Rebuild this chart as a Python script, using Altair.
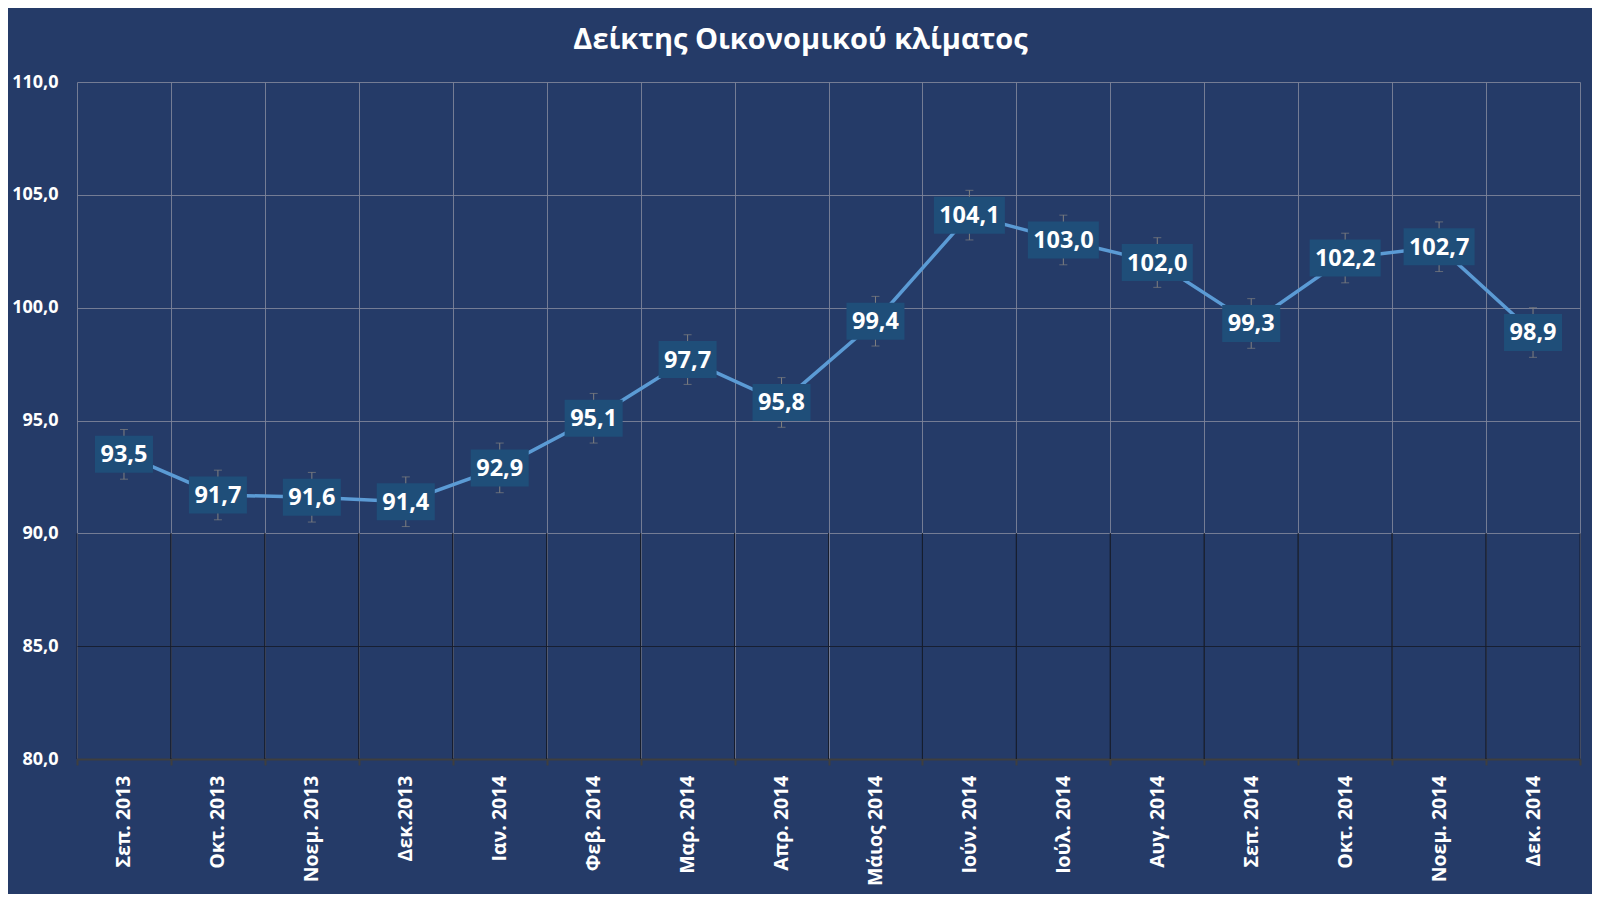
import altair as alt
import pandas as pd

months = ["Σεπ. 2013", "Οκτ. 2013", "Νοεμ. 2013", "Δεκ.2013", "Ιαν. 2014", "Φεβ. 2014",
          "Μαρ. 2014", "Απρ. 2014", "Μάιος 2014", "Ιούν. 2014", "Ιούλ. 2014", "Αυγ. 2014",
          "Σεπ. 2014", "Οκτ. 2014", "Νοεμ. 2014", "Δεκ. 2014"]
values = [93.5, 91.7, 91.6, 91.4, 92.9, 95.1, 97.7, 95.8, 99.4, 104.1, 103.0, 102.0,
          99.3, 102.2, 102.7, 98.9]
errors = [1.1] * 16
y_ticks = [80, 85, 90, 95, 100, 105, 110]

df = pd.DataFrame({"month": months, "value": values, "err": errors})

BG = "#253b68"
FONT = "Open Sans"

xscale = alt.Scale(domain=months, paddingInner=0, paddingOuter=0)
yscale = alt.Scale(domain=[80, 110], nice=False, zero=False)

x_axis = alt.Axis(title=None, labelAngle=-90, labelFont=FONT, labelFontWeight="bold",
                  labelFontSize=19.5, labelColor="white", labelPadding=10,
                  tickBand="extent", grid=True, gridColor="#7d8499", gridOpacity=0.9,
                  domainColor="#3f3f3f", domainWidth=2, tickColor="#3f3f3f",
                  tickSize=6, tickWidth=2)
y_axis = alt.Axis(title=None, values=y_ticks, domain=False, ticks=False, grid=True,
                  labelExpr="replace(format(datum.value, '.1f'), '.', ',')",
                  labelFont=FONT, labelFontWeight="bold", labelFontSize=18,
                  labelColor="white", labelPadding=19,
                  gridColor=alt.condition("datum.value <= 85", alt.value("#161d2e"), alt.value("#7d8499")),
                  gridOpacity=0.9)

base = alt.Chart(df).transform_calculate(
    label="replace(format(datum.value, '.1f'), '.', ',')",
    lo="datum.value - datum.err",
    hi="datum.value + datum.err",
).transform_calculate(
    bw="length(datum.label) > 4 ? 71 : 58",
).transform_calculate(
    bsize="datum.bw * datum.bw",
    shp="datum.bw > 60 ? 'M-1,-0.521L1,-0.521L1,0.521L-1,0.521Z' : 'M-1,-0.638L1,-0.638L1,0.638L-1,0.638Z'",
)

x_enc = alt.X("month:N", scale=xscale, sort=months, axis=x_axis)

dark_left = alt.Chart(df).mark_rule(color="#161d2e", strokeWidth=1).encode(
    x=alt.X("month:N", scale=xscale, sort=months, axis=x_axis, bandPosition=0),
    y=alt.datum(80, scale=yscale, axis=y_axis),
    y2=alt.datum(90),
)
dark_right = alt.Chart(df).mark_rule(color="#161d2e", strokeWidth=1).encode(
    x=alt.X("month:N", scale=xscale, sort=months, bandPosition=1),
    y=alt.datum(80, scale=yscale),
    y2=alt.datum(90),
)

err_rule = base.mark_rule(color="#808080", strokeWidth=1).encode(
    x=x_enc,
    y=alt.Y("lo:Q", scale=yscale, axis=y_axis),
    y2="hi:Q",
)
err_top = base.mark_tick(color="#808080", orient="horizontal", size=8, thickness=1).encode(
    x=x_enc, y=alt.Y("hi:Q", scale=yscale))
err_bot = base.mark_tick(color="#808080", orient="horizontal", size=8, thickness=1).encode(
    x=x_enc, y=alt.Y("lo:Q", scale=yscale))

line = base.mark_line(color="#5b9bd5", strokeWidth=3.5).encode(
    x=x_enc, y=alt.Y("value:Q", scale=yscale))

boxes = base.mark_point(filled=True, opacity=1, color="#1f4e79", strokeWidth=0).encode(
    x=x_enc, y=alt.Y("value:Q", scale=yscale),
    shape=alt.Shape("shp:N", scale=None),
    size=alt.Size("bsize:Q", scale=None),
)
labels = base.mark_text(color="white", font=FONT, fontWeight="bold", fontSize=23.5,
                        baseline="middle", dy=1).encode(
    x=x_enc, y=alt.Y("value:Q", scale=yscale), text="label:N")

chart = alt.layer(dark_left, dark_right, err_rule, err_top, err_bot, line, boxes, labels).properties(
    width=1503, height=677,
    title=alt.TitleParams("Δείκτης Οικονομικού κλίματος", font=FONT, fontSize=29,
                          fontWeight="bold", color="white", anchor="middle",
                          frame="group", baseline="alphabetic", offset=0, dx=-28, dy=5),
    background=BG,
    padding={"left": 69, "top": 74, "right": 12, "bottom": 135},
    autosize=alt.AutoSizeParams(type="none"),
).configure_view(stroke=None, fill=BG)

chart.save("out.html", embed_options={"renderer": "svg", "actions": False})
